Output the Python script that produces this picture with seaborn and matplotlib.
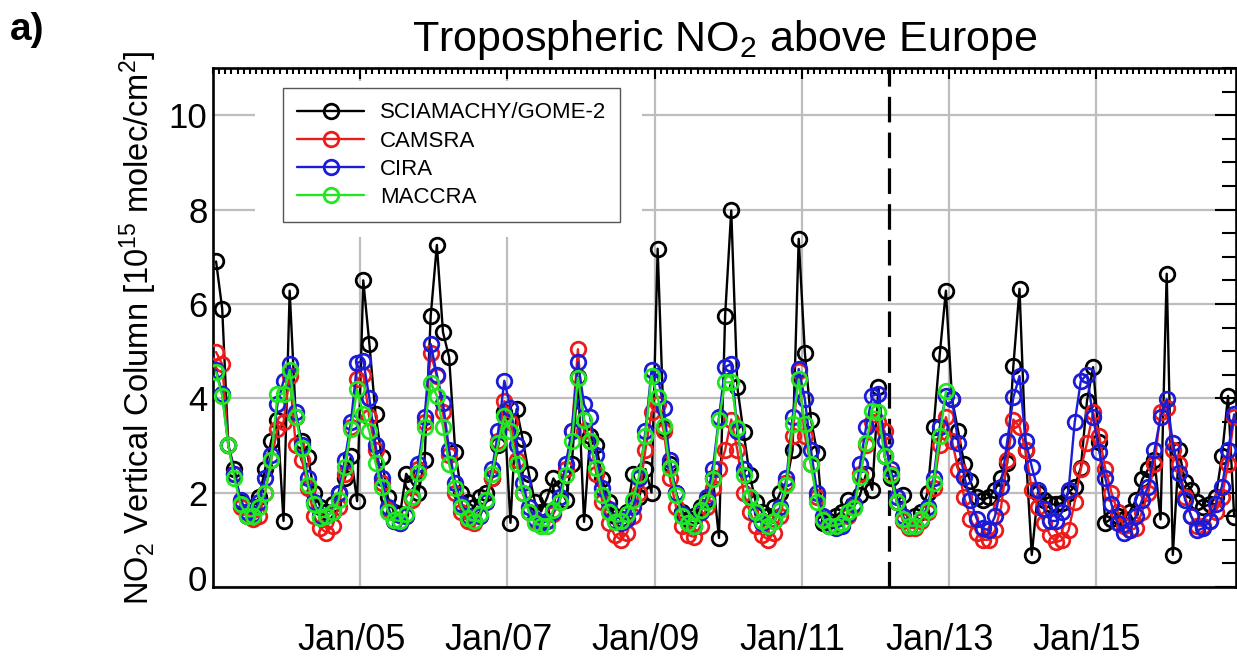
import numpy as np
import pandas as pd
import matplotlib
matplotlib.use("Agg")
import matplotlib.pyplot as plt
import matplotlib.transforms as mtransforms
from matplotlib.patches import Rectangle
from matplotlib.ticker import MultipleLocator, FixedLocator, FixedFormatter
import seaborn as sns

# monthly means from Jan 2003, one row per year (10^15 molec/cm2)
start_year = 2003

sciamachy_gome2 = [
    6.9, 5.9, 3.0, 2.5, 1.8, 1.6, 1.7, 1.9, 2.5, 3.1, 3.55, 1.4,        # 2003
    6.28, 3.6, 3.1, 2.75, 2.0, 1.7, 1.6, 1.75, 2.0, 2.3, 2.77, 1.82,    # 2004
    6.5, 5.15, 3.66, 2.75, 1.9, 1.6, 1.55, 2.4, 2.2, 2.0, 2.7, 5.75,    # 2005
    7.25, 5.4, 4.87, 2.87, 2.0, 1.8, 1.7, 1.9, 2.0, 2.3, 3.0, 3.7,      # 2006
    1.36, 3.77, 3.13, 2.4, 1.8, 1.6, 1.9, 2.3, 2.1, 1.85, 2.6, 4.45,    # 2007
    1.38, 3.2, 3.0, 2.28, 1.8, 1.5, 1.45, 1.6, 2.4, 1.9, 2.5, 2.0,      # 2008
    7.17, 3.38, 2.6, 2.0, 1.6, 1.45, 1.5, 1.7, 1.85, 2.3, 1.04, 5.75,   # 2009
    7.98, 4.23, 3.28, 2.38, 1.8, 1.6, 1.5, 1.7, 2.0, 2.2, 2.9, 7.38,    # 2010
    4.97, 3.55, 2.85, 1.35, 1.4, 1.5, 1.6, 1.85, 1.7, 1.95, 2.4, 2.06,  # 2011
    4.23, 2.77, 2.3, 1.8, 1.95, 1.3, 1.5, 1.6, 2.0, 3.4, 4.94, 6.28,    # 2012
    3.98, 3.3, 2.6, 2.24, 1.9, 1.85, 1.9, 2.06, 2.3, 2.63, 4.69, 6.32,  # 2013
    2.9, 0.68, 2.0, 1.85, 1.75, 1.75, 1.78, 2.0, 2.13, 2.53, 3.94, 4.66,  # 2014
    3.08, 1.36, 1.45, 1.5, 1.45, 1.6, 1.85, 2.28, 2.5, 2.7, 1.43, 6.64,   # 2015
    0.68, 2.9, 2.23, 2.06, 1.8, 1.7, 1.75, 1.9, 2.77, 4.05, 1.49,         # 2016
]

camsra = [
    4.98, 4.72, 3.0, 2.4, 1.7, 1.5, 1.45, 1.5, 2.0, 2.7, 3.34, 3.5,     # 2003
    4.47, 3.0, 2.7, 2.1, 1.5, 1.25, 1.15, 1.3, 1.7, 2.4, 3.4, 4.4,      # 2004
    4.5, 3.6, 2.9, 2.2, 1.65, 1.4, 1.35, 1.5, 1.85, 2.5, 3.5, 4.95,     # 2005
    4.47, 3.7, 2.8, 2.0, 1.6, 1.4, 1.35, 1.5, 1.8, 2.3, 3.1, 3.94,      # 2006
    3.5, 2.7, 2.0, 1.6, 1.4, 1.35, 1.4, 1.55, 1.8, 2.5, 3.3, 5.04,      # 2007
    3.3, 3.1, 2.4, 1.8, 1.35, 1.1, 1.0, 1.15, 1.5, 2.0, 2.9, 3.7,       # 2008
    3.87, 3.3, 2.3, 1.7, 1.3, 1.1, 1.06, 1.3, 1.7, 2.1, 2.5, 2.9,       # 2009
    3.55, 2.9, 2.0, 1.6, 1.3, 1.1, 1.0, 1.15, 1.5, 2.2, 3.19, 4.57,     # 2010
    3.2, 2.6, 1.9, 1.45, 1.3, 1.3, 1.35, 1.5, 1.7, 2.4, 3.0, 3.5,       # 2011
    3.5, 3.3, 2.4, 1.8, 1.4, 1.25, 1.25, 1.4, 1.6, 2.1, 3.0, 3.6,       # 2012
    3.1, 2.49, 1.9, 1.45, 1.15, 1.0, 1.0, 1.2, 1.7, 2.7, 3.55, 3.4,     # 2013
    2.9, 2.06, 1.7, 1.35, 1.1, 0.95, 1.0, 1.2, 1.8, 2.5, 3.05, 3.7,     # 2014
    3.2, 2.5, 2.0, 1.6, 1.3, 1.2, 1.25, 1.6, 2.0, 2.6, 3.7, 3.8,        # 2015
    2.9, 2.6, 1.9, 1.5, 1.3, 1.3, 1.4, 1.6, 1.9, 2.6, 3.6,              # 2016
]

cira = [
    4.6, 4.1, 3.0, 2.4, 1.85, 1.6, 1.55, 1.8, 2.3, 2.8, 3.87, 4.37,     # 2003
    4.72, 3.7, 3.0, 2.3, 1.8, 1.5, 1.5, 1.6, 2.0, 2.7, 3.5, 4.75,       # 2004
    4.8, 4.0, 3.0, 2.3, 1.7, 1.4, 1.35, 1.5, 1.9, 2.6, 3.6, 5.15,       # 2005
    4.5, 3.9, 2.9, 2.2, 1.75, 1.5, 1.4, 1.5, 1.8, 2.5, 3.3, 4.37,       # 2006
    3.8, 3.0, 2.2, 1.7, 1.45, 1.35, 1.4, 1.6, 1.9, 2.6, 3.3, 4.76,      # 2007
    3.87, 3.6, 2.8, 2.1, 1.65, 1.4, 1.35, 1.45, 1.7, 2.3, 3.3, 4.6,     # 2008
    4.47, 3.8, 2.7, 2.0, 1.55, 1.35, 1.3, 1.6, 1.9, 2.5, 3.6, 4.66,     # 2009
    4.73, 3.3, 2.5, 1.9, 1.55, 1.35, 1.3, 1.4, 1.7, 2.3, 3.6, 4.62,     # 2010
    3.98, 2.9, 2.0, 1.5, 1.3, 1.25, 1.3, 1.55, 1.75, 2.6, 3.4, 4.05,    # 2011
    4.1, 3.1, 2.5, 1.9, 1.5, 1.3, 1.3, 1.45, 1.7, 2.3, 3.4, 4.05,       # 2012
    3.98, 3.06, 2.34, 1.85, 1.45, 1.25, 1.2, 1.5, 2.13, 3.09, 4.02, 4.47,  # 2013
    3.09, 2.55, 2.06, 1.65, 1.4, 1.4, 1.6, 2.06, 3.49, 4.37, 4.5, 3.6,     # 2014
    2.87, 2.3, 1.75, 1.35, 1.15, 1.2, 1.5, 1.85, 2.13, 2.9, 3.6, 3.98,     # 2015
    3.06, 2.42, 1.85, 1.5, 1.2, 1.25, 1.4, 1.75, 2.13, 2.9, 3.66,          # 2016
]

maccra = [
    4.55, 4.05, 3.0, 2.3, 1.75, 1.5, 1.5, 1.7, 2.0, 2.7, 4.08, 4.1,     # 2003
    4.6, 3.6, 2.95, 2.17, 1.75, 1.47, 1.5, 1.6, 1.85, 2.55, 3.34, 4.19, # 2004
    3.66, 3.3, 2.63, 2.13, 1.6, 1.42, 1.4, 1.55, 1.9, 2.42, 3.4, 4.33,  # 2005
    4.05, 3.4, 2.6, 2.1, 1.7, 1.47, 1.4, 1.55, 1.85, 2.4, 3.06, 3.62,   # 2006
    3.3, 2.6, 2.0, 1.6, 1.35, 1.3, 1.3, 1.64, 1.8, 2.38, 3.09, 4.44,    # 2007
    3.55, 3.09, 2.53, 1.96, 1.6, 1.38, 1.4, 1.55, 1.85, 2.38, 3.19, 4.47,  # 2008
    4.02, 3.41, 2.53, 1.96, 1.5, 1.35, 1.3, 1.64, 1.8, 2.28, 3.55, 4.34,   # 2009
    4.34, 3.38, 2.38, 1.9, 1.6, 1.4, 1.3, 1.4, 1.64, 2.17, 3.45, 4.4,      # 2010
    3.45, 2.6, 1.8, 1.43, 1.3, 1.3, 1.35, 1.6, 1.68, 2.34, 3.06, 3.72,     # 2011
    3.7, 2.77, 2.38, 1.8, 1.45, 1.3, 1.3, 1.45, 1.64, 2.2, 3.2, 4.15,      # 2012
]

series_names = ["SCIAMACHY/GOME-2", "CAMSRA", "CIRA", "MACCRA"]
series_colors = ["black", "#ec1c1c", "#1c1cd8", "#22e622"]
xtick_years = [2005, 2007, 2009, 2011, 2013, 2015]
xtick_labels = ["Jan/05", "Jan/07", "Jan/09", "Jan/11", "Jan/13", "Jan/15"]
switch_date = 2012.19  # SCIAMACHY -> GOME-2


def monthly_frame(values, name):
    t = start_year + (np.arange(len(values)) + 0.5) / 12.0
    return pd.DataFrame({"time": t, "no2": values, "source": name})


sns.set_theme(style="white", rc={"text.color": "black", "axes.labelcolor": "black",
                                 "xtick.color": "black", "ytick.color": "black"})
plt.rcParams["font.family"] = ["Liberation Sans", "DejaVu Sans"]
plt.rcParams["mathtext.default"] = "regular"

fig = plt.figure(figsize=(12.37, 6.59), dpi=100)
ax = fig.add_axes([213 / 1237, 72 / 659, 1023 / 1237, 519 / 659])

handles = []
for vals, name, col in zip([sciamachy_gome2, camsra, cira, maccra], series_names, series_colors):
    df = monthly_frame(vals, name)
    sns.lineplot(data=df, x="time", y="no2", ax=ax, color=col, linewidth=1.7,
                 marker="o", markersize=10.5, markerfacecolor="none",
                 markeredgecolor=col, markeredgewidth=2.0, zorder=3)
    handles.append(ax.lines[-1])

ax.axvline(switch_date, color="black", lw=2.3, ls=(0, (8.0, 3.2)), zorder=2.5)

# blank area around the legend (grid is hidden there)
ax.add_patch(Rectangle((0.041, 0.674), 0.378, 0.30, transform=ax.transAxes,
                       facecolor="white", edgecolor="none", zorder=0.8))

ax.set_xlim(2003, 2016.9)
ax.set_ylim(0, 11)
ax.set_axisbelow(True)
ax.grid(True, which="major", color="#bdbdbd", lw=1.6)

ax.xaxis.set_major_locator(FixedLocator(xtick_years))
ax.xaxis.set_major_formatter(FixedFormatter(xtick_labels))
ax.xaxis.set_minor_locator(MultipleLocator(1 / 12))
ax.yaxis.set_major_locator(MultipleLocator(2))
ax.yaxis.set_minor_locator(MultipleLocator(0.5))

ax.tick_params(which="both", direction="in", top=True, right=True, width=1.5, color="black")
ax.tick_params(axis="x", which="major", length=8, pad=26, labelsize=26)
ax.tick_params(axis="x", which="minor", length=4)
ax.tick_params(axis="y", which="major", length=15, pad=4, labelsize=25)
ax.tick_params(axis="y", which="minor", length=10)

for s in ax.spines.values():
    s.set_color("black")
    s.set_linewidth(1.9)

ax.set_xlabel("")
ax.set_ylabel("NO$_2$ Vertical Column [10$^{15}$ molec/cm$^2$]", fontsize=23.5, labelpad=7)
ax.set_title("Tropospheric NO$_2$ above Europe", fontsize=31, pad=12)
fig.text(0.008, 1 - 30 / 659, "a)", fontsize=28, fontweight="bold", va="center", ha="left")

leg = ax.legend(handles, series_names, loc="upper left",
                bbox_to_anchor=((283 - 213) / 1023, (587 - 88) / 519), borderaxespad=0,
                frameon=True, fancybox=False, framealpha=1, edgecolor="#555555",
                fontsize=16, handlelength=3.0, handletextpad=0.7, labelspacing=0.32,
                borderpad=0.65, numpoints=1)
leg.get_frame().set_linewidth(1.0)
leg.set_zorder(5)

# tick labels sit a little left of their grid lines; the "0" is lifted
fig.canvas.draw()
shift = mtransforms.ScaledTranslation(-9 / 100, 0, fig.dpi_scale_trans)
for lab in ax.get_xticklabels():
    lab.set_transform(lab.get_transform() + shift)
lift = mtransforms.ScaledTranslation(0, 9 / 100, fig.dpi_scale_trans)
for lab in ax.get_yticklabels():
    if lab.get_text() == "0":
        lab.set_transform(lab.get_transform() + lift)

fig.savefig("out.png", dpi=100)
